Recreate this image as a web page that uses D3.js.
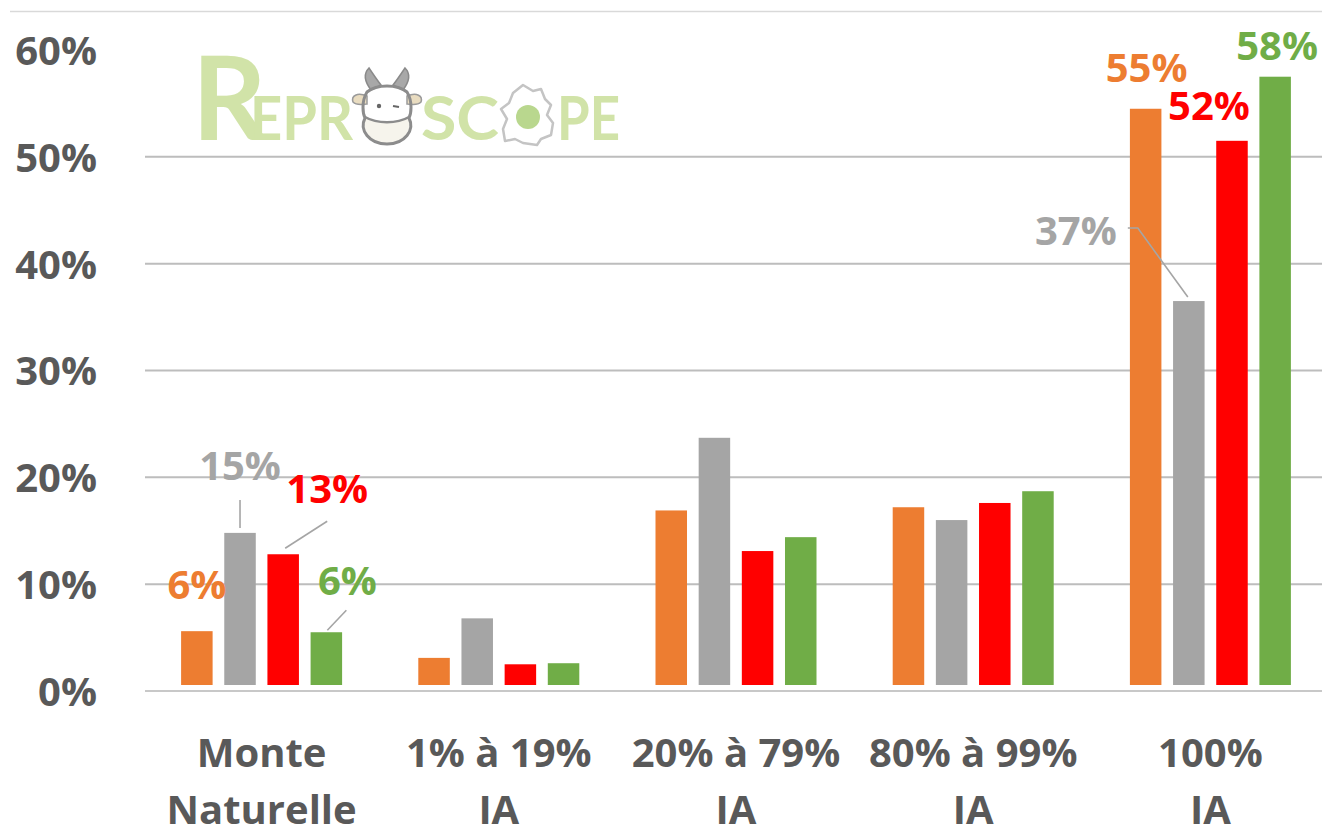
<!DOCTYPE html>
<html>
<head>
<meta charset="utf-8">
<script src="https://cdn.jsdelivr.net/npm/d3@7"></script>
<style>
  html, body { margin: 0; padding: 0; background: #fff; }
  svg { display: block; font-family: "Open Sans", Lato, sans-serif; }
</style>
</head>
<body>
<div id="chart"></div>
<script>
// categories and series (percent values)
const CATEGORIES = [
  ["Monte", "Naturelle"],
  ["1% à 19%", "IA"],
  ["20% à 79%", "IA"],
  ["80% à 99%", "IA"],
  ["100%", "IA"],
];
const SERIES = ["s1", "s2", "s3", "s4"];
const SERIES_COLORS = ["#ED7D31", "#A5A5A5", "#FF0000", "#70AD47"];
const VALUES_S1 = [5.6, 3.1, 16.9, 17.2, 54.5];
const VALUES_S2 = [14.8, 6.8, 23.7, 16.0, 36.5];
const VALUES_S3 = [12.8, 2.5, 13.1, 17.6, 51.5];
const VALUES_S4 = [5.5, 2.6, 14.4, 18.7, 57.5];
const Y_TICKS = [0, 10, 20, 30, 40, 50, 60];
// only the first and last group carry value labels
const LABELLED_GROUPS = [0, 4];

// label placement, relative to bar centre / bar top (layout only)
const LABEL_LAYOUT = {
  "0-0": { dx: 0, dy: -32 },
  "0-1": { dx: 0, dy: -53, leader: [[0, -33], [0, -5]] },
  "0-2": { dx: 44, dy: -51, leader: [[44, -33], [2, -6]] },
  "0-3": { dx: 21, dy: -37, leader: [[20, -22], [1, -2]] },
  "4-0": { dx: 1, dy: -27 },
  "4-1": { dx: -113, dy: -56, leader: [[-61, -73], [-51, -73], [-1, -4]] },
  "4-2": { dx: -23, dy: -21 },
  "4-3": { dx: 2, dy: -17 },
};

const width = 1322;
const height = 829;
const fontSize = 40;
const seriesValues = [VALUES_S1, VALUES_S2, VALUES_S3, VALUES_S4];

const rows = CATEGORIES.map((cat, i) => ({
  index: i,
  label: cat,
  bars: SERIES.map((s, j) => ({ series: s, si: j, ci: i, value: seriesValues[j][i] })),
}));

const svg = d3.select("#chart").append("svg")
  .attr("width", width)
  .attr("height", height)
  .attr("viewBox", `0 0 ${width} ${height}`);

const x0 = d3.scaleBand()
  .domain(d3.range(CATEGORIES.length))
  .range([143, 1329]);

const x1 = d3.scaleBand()
  .domain(SERIES)
  .range([-80.5, 80.5])
  .paddingInner(0.27);

const y = d3.scaleLinear()
  .domain([0, 60])
  .range([691, 50]);

// thin frame line at the top
svg.append("line")
  .attr("x1", 10).attr("x2", width)
  .attr("y1", 11.5).attr("y2", 11.5)
  .attr("stroke", "#D9D9D9")
  .attr("stroke-width", 1.5);

// gridlines (no line at the top tick)
svg.append("g")
  .selectAll("line")
  .data(Y_TICKS.filter((t) => t < 60))
  .join("line")
  .attr("x1", 145).attr("x2", width)
  .attr("y1", (d) => y(d)).attr("y2", (d) => y(d))
  .attr("stroke", (d) => (d === 0 ? "#C8C8C8" : "#BDBDBD"))
  .attr("stroke-width", 2);

// y axis labels
const yAxis = d3.axisLeft(y)
  .tickValues(Y_TICKS)
  .tickFormat((d) => `${d}%`)
  .tickSize(0)
  .tickPadding(0);

svg.append("g")
  .attr("transform", "translate(97,0)")
  .call(yAxis)
  .call((g) => g.select(".domain").remove())
  .call((g) => g.selectAll("text")
    .attr("fill", "#595959")
    .attr("font-family", "'Open Sans', sans-serif")
    .attr("font-weight", 700)
    .attr("font-size", fontSize)
    .attr("dy", "0.36em"));

// logo
const logo = svg.append("g").attr("class", "logo");
const logoGreen = "#D1E3A8";
const logoText = (x, size, txt, len) => {
  const t = logo.append("text")
    .attr("x", x).attr("y", 140)
    .attr("fill", logoGreen)
    .attr("font-family", "Lato, sans-serif")
    .attr("font-weight", 700)
    .attr("font-size", size)
    .text(txt);
  if (len) t.attr("textLength", len).attr("lengthAdjust", "spacingAndGlyphs");
  return t;
};
logoText(192, 116, "R");
logoText(250, 62, "EPR", 103);
logoText(421, 62, "SC", 78);
logoText(557, 62, "PE", 63);

// cow head
const cow = logo.append("g").attr("transform", "translate(387,112)");
cow.append("path") // horns
  .attr("d", "M-16,-22 C-22,-30 -24,-38 -18,-44 C-14,-38 -10,-32 -6,-27 Z M16,-22 C22,-30 24,-38 18,-44 C14,-38 10,-32 6,-27 Z")
  .attr("fill", "#A8A8A8")
  .attr("stroke", "#8A8A8A")
  .attr("stroke-width", 1.5);
cow.append("path") // ears
  .attr("d", "M-20,-16 C-30,-20 -36,-16 -34,-10 C-30,-6 -24,-8 -20,-8 Z M20,-16 C30,-20 36,-16 34,-10 C30,-6 24,-8 20,-8 Z")
  .attr("fill", "#E9DCC0")
  .attr("stroke", "#9A9A9A")
  .attr("stroke-width", 1.5);
cow.append("path") // muzzle fill
  .attr("d", "M-22,4 C-26,20 -14,32 0,32 C14,32 26,20 22,4 C10,12 -10,12 -22,4 Z")
  .attr("fill", "#F6F4EC");
cow.append("path") // head outline
  .attr("d", "M-20,-20 C-10,-28 10,-28 20,-20 C26,-10 24,2 22,6 C28,18 18,32 0,32 C-18,32 -28,18 -22,6 C-24,2 -26,-10 -20,-20 Z")
  .attr("fill", "none")
  .attr("stroke", "#8C8C8C")
  .attr("stroke-width", 3);
cow.append("path") // muzzle line
  .attr("d", "M-22,5 C-10,12 10,12 22,5")
  .attr("fill", "none")
  .attr("stroke", "#8C8C8C")
  .attr("stroke-width", 2.5);
cow.append("circle").attr("cx", -8).attr("cy", -6).attr("r", 2.2).attr("fill", "#666");
cow.append("path").attr("d", "M6,-6 L12,-5").attr("stroke", "#666").attr("stroke-width", 2.2);

// egg / map shape
const egg = logo.append("g").attr("transform", "translate(527,117)");
egg.append("path")
  .attr("d", "M-4,-32 L6,-26 L14,-28 L18,-18 L24,-12 L20,-2 L26,6 L24,18 L14,22 L10,28 L-4,26 L-12,22 L-22,24 L-24,12 L-20,2 L-26,-8 L-18,-14 L-14,-24 Z")
  .attr("fill", "#FFFFFF")
  .attr("stroke", "#C4C4C4")
  .attr("stroke-width", 2.5)
  .attr("stroke-linejoin", "round");
egg.append("circle").attr("cx", 1).attr("cy", 0).attr("r", 12).attr("fill", "#B9D78E");

// bars
const groups = svg.append("g")
  .selectAll("g.group")
  .data(rows)
  .join("g")
  .attr("class", "group")
  .attr("transform", (d) => `translate(${x0(d.index) + x0.bandwidth() / 2},0)`);

const barGap = 6; // bars stop a little above the baseline in the original
groups.selectAll("rect")
  .data((d) => d.bars)
  .join("rect")
  .attr("x", (d) => x1(d.series))
  .attr("width", x1.bandwidth())
  .attr("y", (d) => y(d.value))
  .attr("height", (d) => Math.max(0, y(0) - barGap - y(d.value)))
  .attr("fill", (d) => SERIES_COLORS[d.si]);

// value labels and leader lines
const labelled = rows
  .filter((r) => LABELLED_GROUPS.includes(r.index))
  .flatMap((r) => r.bars);

const labelG = svg.append("g");
labelled.forEach((b) => {
  const lay = LABEL_LAYOUT[`${b.ci}-${b.si}`];
  const cx = x0(b.ci) + x0.bandwidth() / 2 + x1(b.series) + x1.bandwidth() / 2;
  const top = y(b.value);
  if (lay.leader) {
    labelG.append("path")
      .attr("d", d3.line()(lay.leader.map(([dx, dy]) => [cx + dx, top + dy])))
      .attr("fill", "none")
      .attr("stroke", "#A5A5A5")
      .attr("stroke-width", 1.6);
  }
  labelG.append("text")
    .attr("x", cx + lay.dx)
    .attr("y", top + lay.dy)
    .attr("text-anchor", "middle")
    .attr("fill", SERIES_COLORS[b.si])
    .attr("font-weight", 700)
    .attr("font-size", fontSize)
    .text(`${Math.round(b.value)}%`);
});

// category labels
const catG = svg.append("g")
  .selectAll("text")
  .data(rows)
  .join("text")
  .attr("x", (d) => x0(d.index) + x0.bandwidth() / 2)
  .attr("y", 767)
  .attr("text-anchor", "middle")
  .attr("fill", "#595959")
  .attr("font-weight", 700)
  .attr("font-size", fontSize);

catG.selectAll("tspan")
  .data((d) => d.label)
  .join("tspan")
  .attr("x", function () { return d3.select(this.parentNode).attr("x"); })
  .attr("dy", (_, i) => (i === 0 ? 0 : 57))
  .text((d) => d);
</script>
</body>
</html>
